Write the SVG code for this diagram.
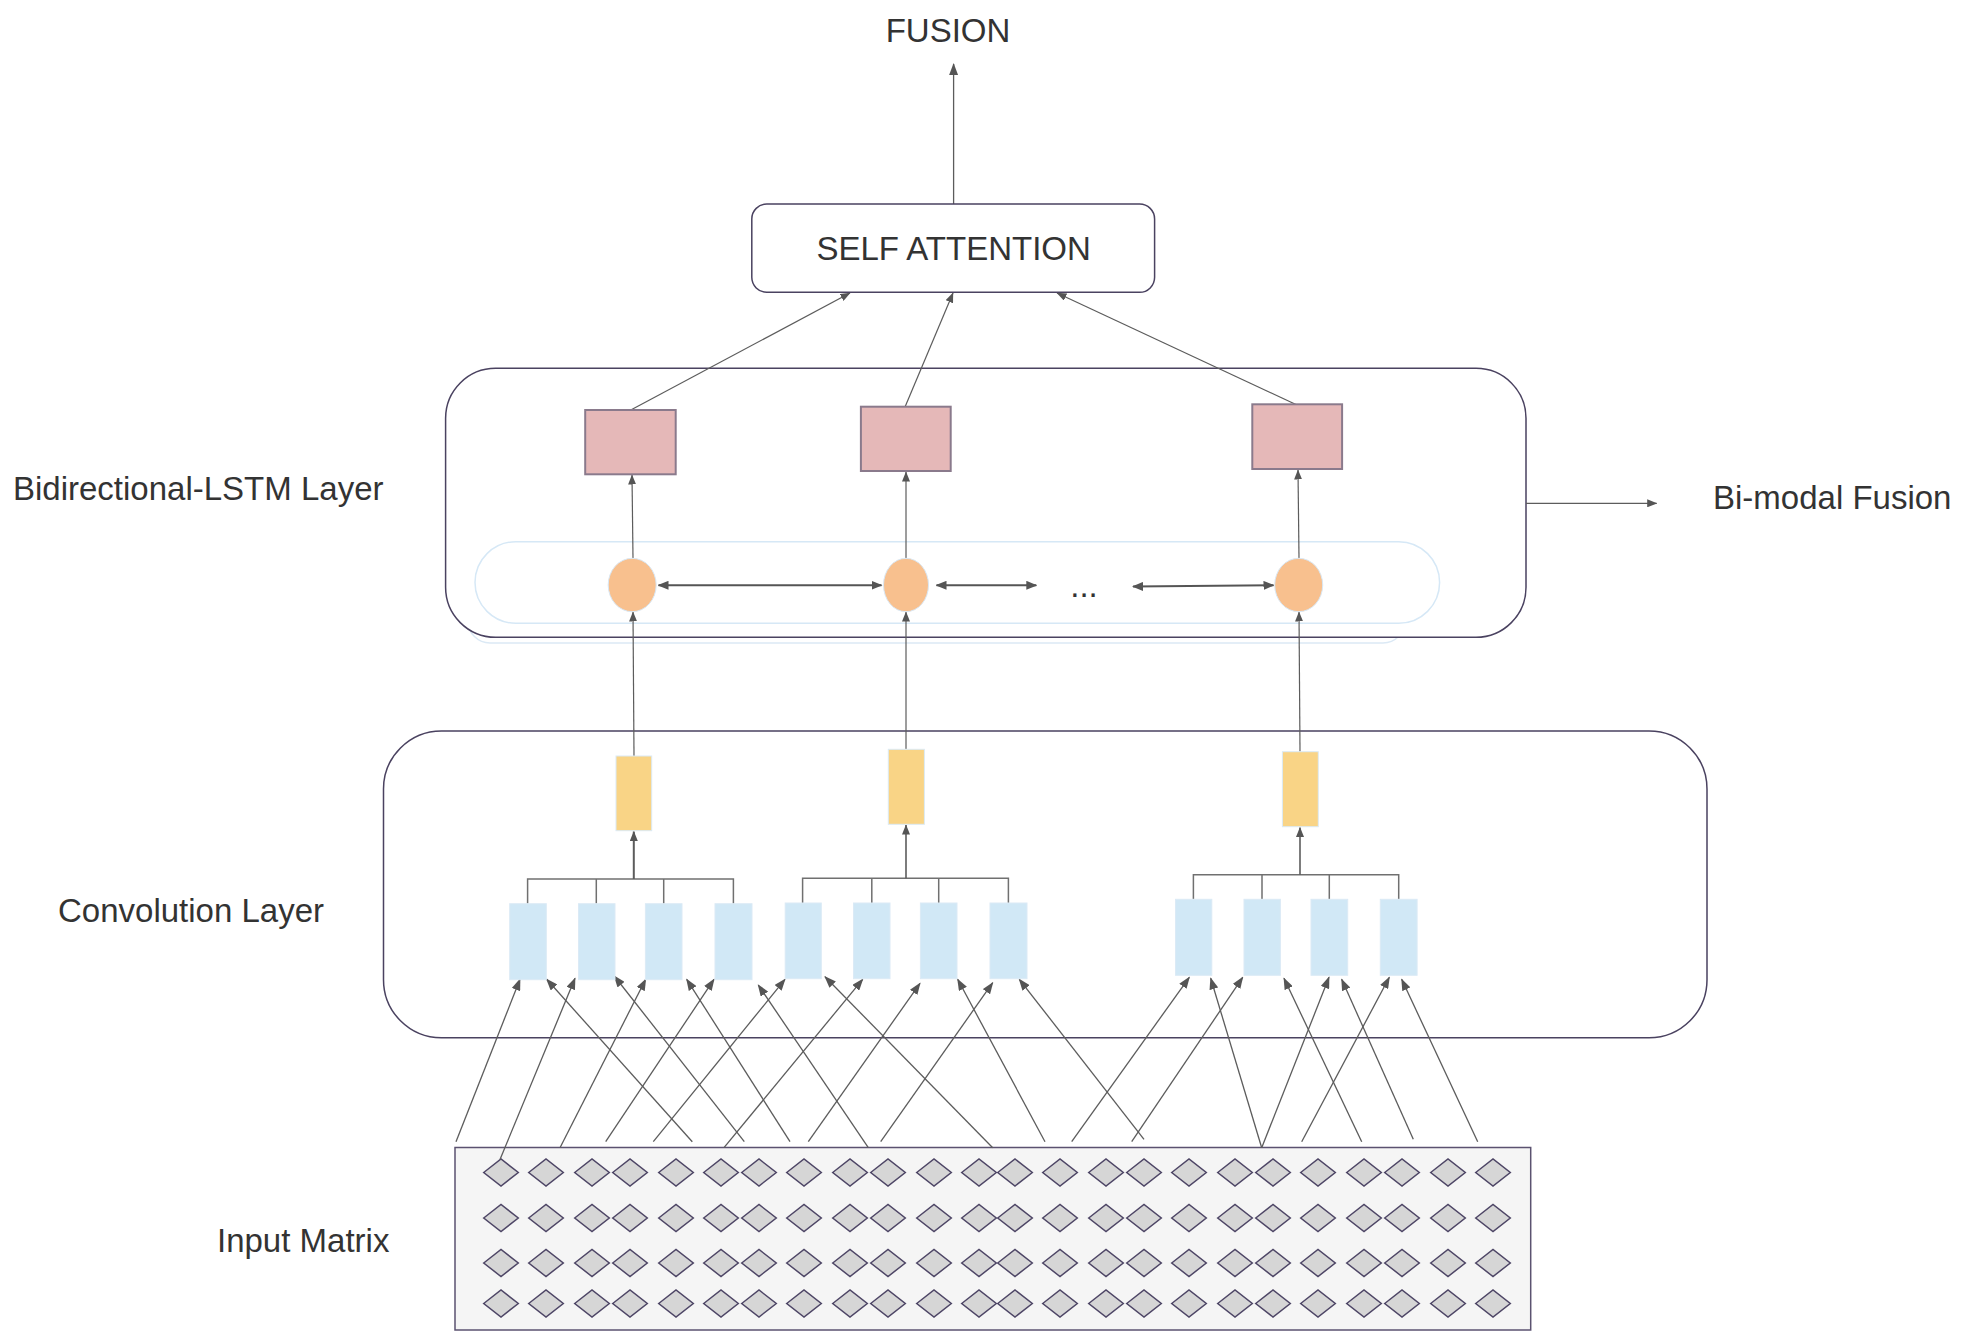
<svg xmlns="http://www.w3.org/2000/svg" xmlns:xlink="http://www.w3.org/1999/xlink" width="1965" height="1343" viewBox="0 0 1965 1343">
<style>
.lbl{font-family:"Liberation Sans",Arial,sans-serif;font-size:33px;fill:#333333}
.box{fill:#ffffff;stroke:#4a4260;stroke-width:1.5}
.conv{fill:#d1e8f6;stroke:#dbeaf6;stroke-width:1}
.pool{fill:#f9d486;stroke:#dbeaf6;stroke-width:1}
.pink{fill:#e5b8b8;stroke:#8a7a8c;stroke-width:2}
.cell{fill:#f8c08e;stroke:#d9e8f5;stroke-width:1}
.ln{fill:none;stroke:#5c5c5c;stroke-width:1.3}
.lnA{fill:none;stroke:#5c5c5c;stroke-width:1.3;marker-end:url(#ah)}
.lnS{fill:none;stroke:#5c5c5c;stroke-width:1.2;marker-end:url(#as)}
.dbl{fill:none;stroke:#555555;stroke-width:2;marker-end:url(#ad);marker-start:url(#ad)}
.brk{fill:none;stroke:#707070;stroke-width:1.5}
.dm{fill:#d6d6d6;stroke:#4e4666;stroke-width:1.5}
</style>
<defs>
<marker id="ah" markerUnits="userSpaceOnUse" markerWidth="12" markerHeight="9" refX="11" refY="4.5" orient="auto"><path d="M0,0 L12,4.5 L0,9 z" fill="#555555"/></marker>
<marker id="as" markerUnits="userSpaceOnUse" markerWidth="10" markerHeight="8" refX="9.5" refY="4" orient="auto"><path d="M0,0 L10,4 L0,8 z" fill="#555555"/></marker>
<marker id="ad" markerUnits="userSpaceOnUse" markerWidth="11" markerHeight="9" refX="10" refY="4.5" orient="auto-start-reverse"><path d="M0,0 L11,4.5 L0,9 z" fill="#555555"/></marker>
<path id="dmd" class="dm" d="M-17.3,0 L0,-13.5 L17.3,0 L0,13.5 z"/>
</defs>
<rect width="1965" height="1343" fill="#ffffff"/>

<g id="labels">
<text class="lbl" x="948" y="41.7" text-anchor="middle">FUSION</text>
<text class="lbl" x="13" y="499.5">Bidirectional-LSTM Layer</text>
<text class="lbl" x="1713" y="508.5">Bi-modal Fusion</text>
<text class="lbl" x="1494.5" y="799.5">Maxpooling</text>
<text class="lbl" x="1507.5" y="935">Convolution</text>
<text class="lbl" x="58" y="921.5">Convolution Layer</text>
<text class="lbl" x="217" y="1251.5">Input Matrix</text>
</g>

<g id="bilstm-layer">
<rect x="468" y="380" width="937" height="263" rx="22" fill="none" stroke="#dbe9f5" stroke-width="1.5"/>
<rect class="box" x="445.6" y="368.3" width="1080.4" height="269" rx="50"/>
<rect x="475" y="541.7" width="964.6" height="81.6" rx="41" fill="none" stroke="#d6e8f6" stroke-width="1.5"/>
</g>
<g id="conv-layer">
<rect class="box" x="383.5" y="731" width="1323.5" height="306.7" rx="58"/>
</g>
<g id="input-matrix">
<rect x="455" y="1147.5" width="1075.7" height="182.5" fill="#f5f5f5" stroke="#5b5270" stroke-width="1.5"/>
<g id="diamonds">
<use xlink:href="#dmd" x="501" y="1172.5"/><use xlink:href="#dmd" x="546" y="1172.5"/><use xlink:href="#dmd" x="592" y="1172.5"/><use xlink:href="#dmd" x="630" y="1172.5"/><use xlink:href="#dmd" x="676" y="1172.5"/><use xlink:href="#dmd" x="721" y="1172.5"/><use xlink:href="#dmd" x="759" y="1172.5"/><use xlink:href="#dmd" x="804" y="1172.5"/><use xlink:href="#dmd" x="850" y="1172.5"/><use xlink:href="#dmd" x="888" y="1172.5"/><use xlink:href="#dmd" x="934" y="1172.5"/><use xlink:href="#dmd" x="979" y="1172.5"/><use xlink:href="#dmd" x="1015" y="1172.5"/><use xlink:href="#dmd" x="1060" y="1172.5"/><use xlink:href="#dmd" x="1106" y="1172.5"/><use xlink:href="#dmd" x="1144" y="1172.5"/><use xlink:href="#dmd" x="1189" y="1172.5"/><use xlink:href="#dmd" x="1235" y="1172.5"/><use xlink:href="#dmd" x="1273" y="1172.5"/><use xlink:href="#dmd" x="1318" y="1172.5"/><use xlink:href="#dmd" x="1364" y="1172.5"/><use xlink:href="#dmd" x="1402" y="1172.5"/><use xlink:href="#dmd" x="1448" y="1172.5"/><use xlink:href="#dmd" x="1493" y="1172.5"/>
<use xlink:href="#dmd" x="501" y="1218"/><use xlink:href="#dmd" x="546" y="1218"/><use xlink:href="#dmd" x="592" y="1218"/><use xlink:href="#dmd" x="630" y="1218"/><use xlink:href="#dmd" x="676" y="1218"/><use xlink:href="#dmd" x="721" y="1218"/><use xlink:href="#dmd" x="759" y="1218"/><use xlink:href="#dmd" x="804" y="1218"/><use xlink:href="#dmd" x="850" y="1218"/><use xlink:href="#dmd" x="888" y="1218"/><use xlink:href="#dmd" x="934" y="1218"/><use xlink:href="#dmd" x="979" y="1218"/><use xlink:href="#dmd" x="1015" y="1218"/><use xlink:href="#dmd" x="1060" y="1218"/><use xlink:href="#dmd" x="1106" y="1218"/><use xlink:href="#dmd" x="1144" y="1218"/><use xlink:href="#dmd" x="1189" y="1218"/><use xlink:href="#dmd" x="1235" y="1218"/><use xlink:href="#dmd" x="1273" y="1218"/><use xlink:href="#dmd" x="1318" y="1218"/><use xlink:href="#dmd" x="1364" y="1218"/><use xlink:href="#dmd" x="1402" y="1218"/><use xlink:href="#dmd" x="1448" y="1218"/><use xlink:href="#dmd" x="1493" y="1218"/>
<use xlink:href="#dmd" x="501" y="1263"/><use xlink:href="#dmd" x="546" y="1263"/><use xlink:href="#dmd" x="592" y="1263"/><use xlink:href="#dmd" x="630" y="1263"/><use xlink:href="#dmd" x="676" y="1263"/><use xlink:href="#dmd" x="721" y="1263"/><use xlink:href="#dmd" x="759" y="1263"/><use xlink:href="#dmd" x="804" y="1263"/><use xlink:href="#dmd" x="850" y="1263"/><use xlink:href="#dmd" x="888" y="1263"/><use xlink:href="#dmd" x="934" y="1263"/><use xlink:href="#dmd" x="979" y="1263"/><use xlink:href="#dmd" x="1015" y="1263"/><use xlink:href="#dmd" x="1060" y="1263"/><use xlink:href="#dmd" x="1106" y="1263"/><use xlink:href="#dmd" x="1144" y="1263"/><use xlink:href="#dmd" x="1189" y="1263"/><use xlink:href="#dmd" x="1235" y="1263"/><use xlink:href="#dmd" x="1273" y="1263"/><use xlink:href="#dmd" x="1318" y="1263"/><use xlink:href="#dmd" x="1364" y="1263"/><use xlink:href="#dmd" x="1402" y="1263"/><use xlink:href="#dmd" x="1448" y="1263"/><use xlink:href="#dmd" x="1493" y="1263"/>
<use xlink:href="#dmd" x="501" y="1303.5"/><use xlink:href="#dmd" x="546" y="1303.5"/><use xlink:href="#dmd" x="592" y="1303.5"/><use xlink:href="#dmd" x="630" y="1303.5"/><use xlink:href="#dmd" x="676" y="1303.5"/><use xlink:href="#dmd" x="721" y="1303.5"/><use xlink:href="#dmd" x="759" y="1303.5"/><use xlink:href="#dmd" x="804" y="1303.5"/><use xlink:href="#dmd" x="850" y="1303.5"/><use xlink:href="#dmd" x="888" y="1303.5"/><use xlink:href="#dmd" x="934" y="1303.5"/><use xlink:href="#dmd" x="979" y="1303.5"/><use xlink:href="#dmd" x="1015" y="1303.5"/><use xlink:href="#dmd" x="1060" y="1303.5"/><use xlink:href="#dmd" x="1106" y="1303.5"/><use xlink:href="#dmd" x="1144" y="1303.5"/><use xlink:href="#dmd" x="1189" y="1303.5"/><use xlink:href="#dmd" x="1235" y="1303.5"/><use xlink:href="#dmd" x="1273" y="1303.5"/><use xlink:href="#dmd" x="1318" y="1303.5"/><use xlink:href="#dmd" x="1364" y="1303.5"/><use xlink:href="#dmd" x="1402" y="1303.5"/><use xlink:href="#dmd" x="1448" y="1303.5"/><use xlink:href="#dmd" x="1493" y="1303.5"/>
</g>
</g>

<g id="connectors">
<path class="lnA" d="M953.6,204 L953.6,64"/>
<path class="lnS" d="M630.8,410 L850,293"/>
<path class="lnS" d="M905,407 L953,293"/>
<path class="lnS" d="M1297,405 L1057,293"/>
<path class="lnS" d="M1526,503.3 L1656.7,503.3"/>
<path class="lnS" d="M633,558 L632,475"/>
<path class="lnS" d="M906,558 L906,472"/>
<path class="lnS" d="M1299,558 L1298,470"/>
<path class="dbl" d="M658.5,585.3 L881.5,585.3"/>
<path class="dbl" d="M936.5,585.3 L1036.3,585.3"/>
<path class="dbl" d="M1133,586.5 L1273.5,585.3"/>
<path class="lnS" d="M634,756 L633,612"/>
<path class="lnS" d="M906,749 L906,612"/>
<path class="lnS" d="M1300,751.7 L1299,612"/>
<path class="brk" d="M527.6,903.7 L527.6,879 L733.4,879 L733.4,903.7 M596.3,879 L596.3,903.7 M663.7,879 L663.7,903.7"/>
<path class="brk" d="M802.6,903 L802.6,878.3 L1008.4,878.3 L1008.4,903 M871.8,878.3 L871.8,903 M938.7,878.3 L938.7,903"/>
<path class="brk" d="M1193.4,899.3 L1193.4,874.7 L1398.7,874.7 L1398.7,899.3 M1262,874.7 L1262,899.3 M1329.3,874.7 L1329.3,899.3"/>
<path class="lnS" style="stroke-width:2" d="M633.8,879 L633.8,831.5"/>
<path class="lnS" style="stroke-width:1.6" d="M906,878.3 L906,825"/>
<path class="lnS" style="stroke-width:1.6" d="M1300,874.7 L1300,827.5"/>
<path class="lnA" d="M456,1141.7 L520,979.3"/>
<path class="lnA" d="M500,1159.5 L575,978.3"/>
<path class="lnA" d="M560,1147.7 L645.7,979.3"/>
<path class="lnA" d="M605.7,1141.7 L714,979.3"/>
<path class="lnA" d="M653.3,1141.7 L785,979.3"/>
<path class="lnA" d="M724,1147.7 L862.7,979.3"/>
<path class="lnA" d="M808.3,1141.7 L920,983.3"/>
<path class="lnA" d="M880.7,1141.7 L992.7,982.7"/>
<path class="lnA" d="M1071.7,1141.7 L1189.3,977.3"/>
<path class="lnA" d="M1131.7,1141.7 L1242.7,977.3"/>
<path class="lnA" d="M1261.7,1147.7 L1329,977.3"/>
<path class="lnA" d="M1301.7,1141.7 L1389.3,977.3"/>
<path class="lnA" d="M692.3,1141.7 L546.7,979.3"/>
<path class="lnA" d="M744.3,1141.7 L614.3,976"/>
<path class="lnA" d="M790,1141.7 L686.7,979.3"/>
<path class="lnA" d="M868.3,1147.7 L758.3,985"/>
<path class="lnA" d="M992.7,1147.7 L825,976.7"/>
<path class="lnA" d="M1045,1141.7 L957.7,979.3"/>
<path class="lnA" d="M1144,1139.3 L1019.3,979.3"/>
<path class="lnA" d="M1261.7,1147.7 L1210.7,978.3"/>
<path class="lnA" d="M1361.7,1141.7 L1284,978.3"/>
<path class="lnA" d="M1413.3,1139.3 L1341.7,979.3"/>
<path class="lnA" d="M1477.7,1141.7 L1401.7,979.3"/>
</g>

<g id="self-attention">
<rect class="box" x="751.8" y="204" width="402.8" height="88.3" rx="15"/>
<text class="lbl" x="953.6" y="260" text-anchor="middle">SELF ATTENTION</text>
</g>
<g id="output-1"><rect class="pink" x="585.2" y="410" width="90.5" height="64.3"/></g>
<g id="output-2"><rect class="pink" x="860.9" y="406.7" width="89.8" height="64.3"/></g>
<g id="output-3"><rect class="pink" x="1252.3" y="404.3" width="89.8" height="64.7"/></g>
<g id="lstm-1"><ellipse class="cell" cx="632.2" cy="585" rx="24" ry="26.7"/></g>
<g id="lstm-2"><ellipse class="cell" cx="906" cy="585" rx="22.5" ry="26.7"/></g>
<g id="lstm-ellipsis"><text class="lbl" x="1084" y="597" text-anchor="middle">...</text></g>
<g id="lstm-3"><ellipse class="cell" cx="1298.7" cy="585" rx="24" ry="26.7"/></g>
<g id="pool-1"><rect class="pool" x="616" y="756" width="35.7" height="74.7"/></g>
<g id="pool-2"><rect class="pool" x="888.3" y="749.3" width="36.1" height="75"/></g>
<g id="pool-3"><rect class="pool" x="1282.4" y="751.7" width="35.9" height="75"/></g>
<g id="conv-1"><rect class="conv" x="509.7" y="903.7" width="36.6" height="76"/></g>
<g id="conv-2"><rect class="conv" x="578.5" y="903.7" width="36.5" height="76"/></g>
<g id="conv-3"><rect class="conv" x="645.4" y="903.7" width="36.6" height="76"/></g>
<g id="conv-4"><rect class="conv" x="715" y="903.7" width="37" height="76"/></g>
<g id="conv-5"><rect class="conv" x="785.2" y="903" width="36.1" height="75.7"/></g>
<g id="conv-6"><rect class="conv" x="853.5" y="903" width="36.5" height="75.7"/></g>
<g id="conv-7"><rect class="conv" x="920.4" y="903" width="36.6" height="75.7"/></g>
<g id="conv-8"><rect class="conv" x="990" y="903" width="37" height="75.7"/></g>
<g id="conv-9"><rect class="conv" x="1175.5" y="899.3" width="36.3" height="76"/></g>
<g id="conv-10"><rect class="conv" x="1244" y="899.3" width="36.4" height="76"/></g>
<g id="conv-11"><rect class="conv" x="1311" y="899.3" width="36.7" height="76"/></g>
<g id="conv-12"><rect class="conv" x="1380.3" y="899.3" width="36.8" height="76"/></g>
</svg>
